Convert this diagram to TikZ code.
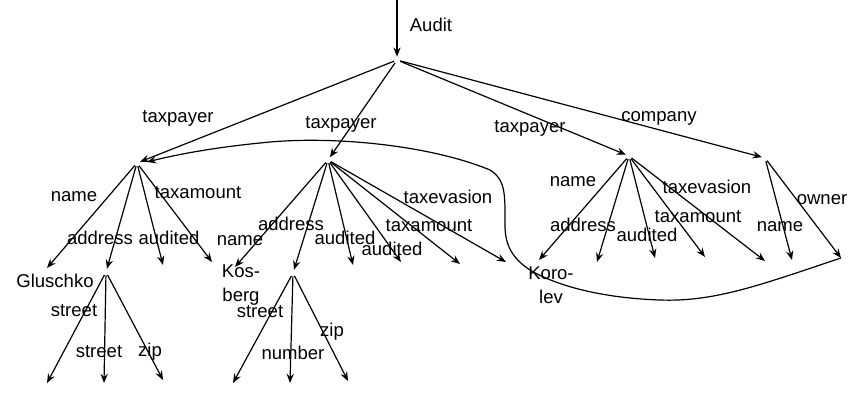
\documentclass[tikz,border=0pt]{standalone}
\usepackage{fontspec}
\setmainfont{Liberation Sans}
\usetikzlibrary{arrows.meta}
\begin{document}
\begin{tikzpicture}[x=0.75pt,y=-0.75pt,
  lbl/.style={font=\fontsize{13.9}{17}\selectfont, inner sep=0pt},
  leaf/.style={font=\fontsize{13.9}{18}\selectfont, inner sep=0pt, align=center},
  arr/.style={-{Stealth[length=7pt,width=5.5pt,inset=2.5pt]}, line width=0.9pt},
  pt/.style={circle, inner sep=0pt, minimum size=4.5pt}]
\useasboundingbox (0,0) rectangle (861,401);
% structure points
\coordinate (top) at (397,0);
\node[pt] (root) at (397,60) {};
\node[pt] (t1) at (137,163) {};
\node[pt] (t2) at (328,160) {};
\node[pt] (t3) at (629,156) {};
\node[pt] (c) at (765,158) {};
\node[pt] (a1) at (106,272) {};
\node[pt] (a2) at (293,273) {};
% leaf tips
\coordinate (l1) at (47,268);
\coordinate (l2) at (163,265);
\coordinate (l3) at (212,262);
\coordinate (l4) at (47,383);
\coordinate (l5) at (104,383);
\coordinate (l6) at (163,380);
\coordinate (m1) at (235,267);
\coordinate (m2) at (353,265);
\coordinate (m3) at (401,262);
\coordinate (m4) at (460,264);
\coordinate (m5) at (506,262);
\coordinate (m6) at (233,383);
\coordinate (m7) at (290,383);
\coordinate (m8) at (348,381);
\coordinate (k1) at (539,260);
\coordinate (k2) at (597,262);
\coordinate (k3) at (655,258);
\coordinate (k4) at (705,257);
\coordinate (k5) at (765,261);
\coordinate (c1) at (792,260);
\coordinate (c2) at (841,258);
\coordinate (t1in) at (147,162);
% leaf texts
\node[leaf] (glu) at (55,281) {Gluschko};
\node[leaf] (kos) at (241,285) {Kos-\\berg};
\node[leaf] (kor) at (551,285) {Koro-\\lev};
% arrows
\draw[arr] (top) -- (root);
\draw[arr] (root) -- (t1);
\draw[arr] (root) -- (t2);
\draw[arr] (root) -- (t3);
\draw[arr] (root) -- (c);
\foreach \e in {l1,a1,l2,l3} \draw[arr] (t1) -- (\e);
\foreach \e in {l4,l5,l6} \draw[arr] (a1) -- (\e);
\foreach \e in {m1,a2,m2,m3,m4,m5} \draw[arr] (t2) -- (\e);
\foreach \e in {m6,m7,m8} \draw[arr] (a2) -- (\e);
\foreach \e in {k1,k2,k3,k4,k5} \draw[arr] (t3) -- (\e);
\foreach \e in {c1,c2} \draw[arr] (c) -- (\e);
% reference curve
\draw[arr] (c2) .. controls (760,285) and (715,302) .. (660,300)
  .. controls (600,298) and (555,285) .. (530,270)
  .. controls (512,258) and (505,245) .. (505,225)
  .. controls (505,195) and (506,180) .. (490,170)
  .. controls (430,145) and (330,135) .. (260,143)
  .. controls (210,148) and (175,155) .. (t1in);
% labels
\node[lbl] (audit) at (431,25) {Audit};
\node[lbl] (tp1) at (178,118) {taxpayer};
\node[lbl] (tp2) at (341,124) {taxpayer};
\node[lbl] (tp3) at (530,128) {taxpayer};
\node[lbl] (comp) at (659,118) {company};
\node[lbl] (n1) at (74,197) {name};
\node[lbl] (ta1) at (198,193) {taxamount};
\node[lbl] (ad1) at (100,238) {address};
\node[lbl] (au1) at (169,238) {audited};
\node[lbl] (s1) at (74,311) {street};
\node[lbl] (s2) at (99,352) {street};
\node[lbl] (z1) at (150,352) {zip};
\node[lbl] (n2) at (240,241) {name};
\node[lbl] (ad2) at (291,224) {address};
\node[lbl] (au2) at (345,238) {audited};
\node[lbl] (au3) at (392,249) {audited};
\node[lbl] (ta2) at (429,226) {taxamount};
\node[lbl] (te2) at (448,197) {taxevasion};
\node[lbl] (s3) at (260,312) {street};
\node[lbl] (nb) at (293,353) {number};
\node[lbl] (z2) at (332,332) {zip};
\node[lbl] (n3) at (573,182) {name};
\node[lbl] (ad3) at (583,225) {address};
\node[lbl] (au4) at (647,235) {audited};
\node[lbl] (ta3) at (698,217) {taxamount};
\node[lbl] (te3) at (707,187) {taxevasion};
\node[lbl] (n4) at (780,227) {name};
\node[lbl] (ow) at (822,200) {owner};
\end{tikzpicture}
\end{document}
